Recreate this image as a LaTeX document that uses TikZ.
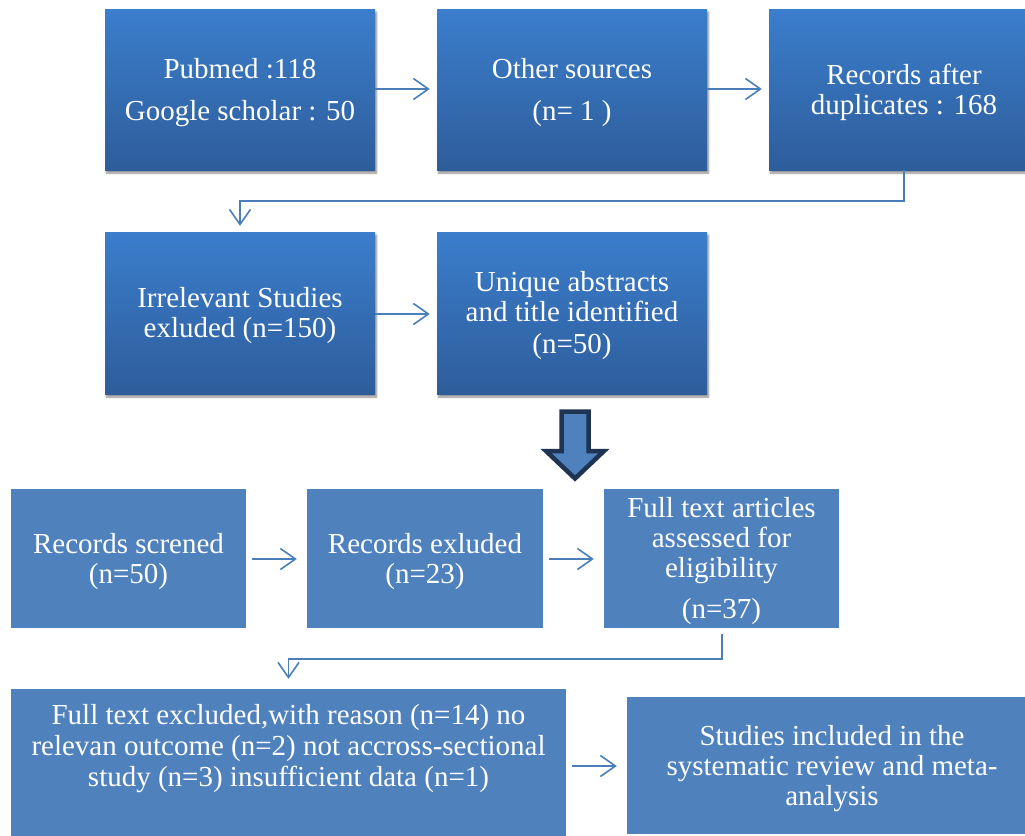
\documentclass[tikz,border=0pt]{standalone}
\usepackage{fontspec}
\setmainfont{Liberation Serif}
\usetikzlibrary{arrows.meta,shadows.blur}
\definecolor{gtop}{RGB}{59,126,204}
\definecolor{gbot}{RGB}{46,93,155}
\definecolor{flat}{RGB}{79,129,189}
\definecolor{conn}{RGB}{74,126,187}
\definecolor{darkedge}{RGB}{30,52,82}
\newcommand\upstrut{\rule{0pt}{26pt}}
\tikzset{
  gbox/.style={rectangle, inner sep=0pt, top color=gtop, bottom color=gbot, draw=none,
    blur shadow={shadow blur steps=6, shadow xshift=1.5pt, shadow yshift=-3pt, shadow opacity=45},
    text=white, align=center, font=\fontsize{29}{30}\selectfont},
  fbox/.style={rectangle, inner sep=0pt, fill=flat, draw=none,
    text=white, align=center, font=\fontsize{29}{30}\selectfont},
  conn/.style={draw=conn, line width=1.6pt, -{Straight Barb[length=15pt,width=21pt,line width=1.6pt]}}
}
\begin{document}
\begin{tikzpicture}[x=1pt,y=-1pt]
\clip (0,0) rectangle (1025,835);
\useasboundingbox (0,0) rectangle (1025,835);
% top row
\node[gbox, minimum width=270pt, minimum height=161pt] (b1) at (240,89.5) {\upstrut Pubmed :118\\[12pt]Google scholar : 50};
\node[gbox, minimum width=270pt, minimum height=161pt] (b2) at (572,89.5) {\upstrut Other sources\\[12pt](n= 1 )};
\node[gbox, minimum width=270pt, minimum height=161pt] (b3) at (904,89.5) {\upstrut Records after\\duplicates : 168};
% second row
\node[gbox, minimum width=270pt, minimum height=162pt] (b4) at (240,313) {\upstrut Irrelevant Studies\\exluded (n=150)};
\node[gbox, minimum width=270pt, minimum height=162pt] (b5) at (572,313) {\upstrut Unique abstracts\\and title identified\\[2pt](n=50)};
% third row
\node[fbox, minimum width=235pt, minimum height=139pt] (b6) at (128.5,558.5) {\upstrut Records screned\\(n=50)};
\node[fbox, minimum width=236pt, minimum height=139pt] (b7) at (425,558.5) {\upstrut Records exluded\\(n=23)};
\node[fbox, minimum width=235pt, minimum height=139pt] (b8) at (721.5,558.5) {\upstrut Full text articles\\assessed for\\eligibility\\[11pt](n=37)};
% fourth row
\node[fbox, minimum width=555pt, minimum height=180pt] (b9) at (288.5,779) {};
\node[text=white, align=center, font=\fontsize{29}{31}\selectfont] (t9) at (288.5,746) {\upstrut Full text excluded,with reason (n=14) no\\relevan outcome (n=2) not accross-sectional\\study (n=3) insufficient data (n=1)};
\node[fbox, minimum width=410pt, minimum height=137pt] (b10) at (832,765.5) {\upstrut Studies included in the\\systematic review and meta-\\analysis};
% connectors
\draw[conn, shorten >=7pt] (b1.east |- 0,89) -- (b2.west |- 0,89);
\draw[conn, shorten >=7pt] (b2.east |- 0,89) -- (b3.west |- 0,89);
\draw[conn, shorten >=7pt] (b4.east |- 0,314) -- (b5.west |- 0,314);
\draw[conn, shorten <=6pt, shorten >=10pt] (b6.east |- 0,559) -- (b7.west |- 0,559);
\draw[conn, shorten <=6pt, shorten >=10pt] (b7.east |- 0,559) -- (b8.west |- 0,559);
\draw[conn, shorten <=6pt, shorten >=10pt] (b9.east |- 0,766) -- (b10.west |- 0,766);
\draw[conn, shorten >=6pt] (b3.south) -- (904,201) -- (240,201) -- (b4.north);
\draw[conn, shorten <=6pt, shorten >=10pt] (722,628) -- (722,659) -- (288.5,659) -- (b9.north -| 288.5,0);
% big down arrow
\draw[fill=flat, draw=darkedge, line width=4.5pt, line join=miter]
  (561.5,411.5) -- (588.5,411.5) -- (588.5,451) -- (604,451) -- (575,478.5) -- (546,451) -- (561.5,451) -- cycle;
\end{tikzpicture}
\end{document}
